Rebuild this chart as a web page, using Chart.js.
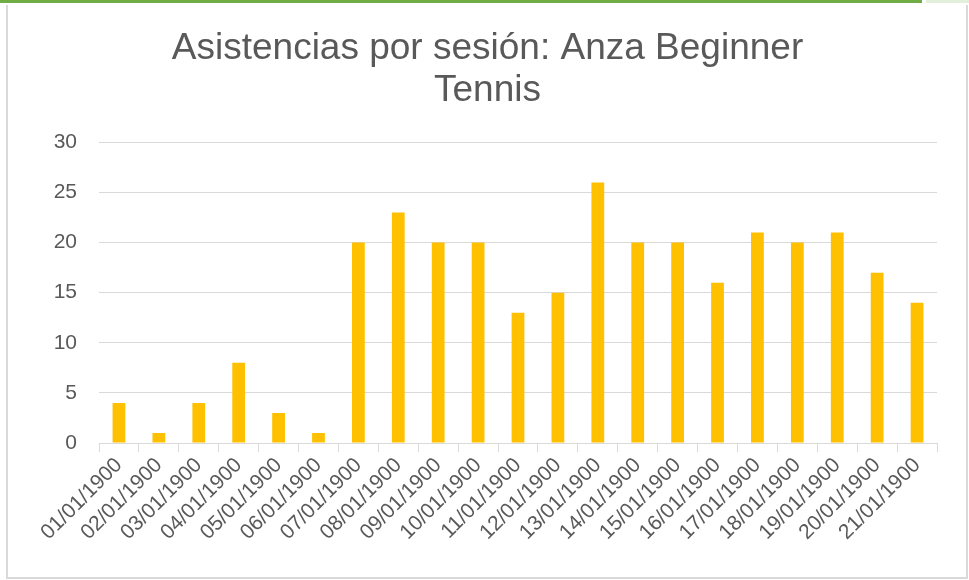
<!DOCTYPE html>
<html>
<head>
<meta charset="utf-8">
<script src="https://cdn.jsdelivr.net/npm/chart.js@4.4.0/dist/chart.umd.min.js"></script>
<style>
  html, body { margin: 0; padding: 0; background: #fff; }
  #wrap { position: relative; width: 969px; height: 580px; overflow: hidden; }
  #topbar { position: absolute; left: 0; top: 0; width: 922px; height: 3px; background: #70ad47; }
  #topbar2 { position: absolute; left: 926px; top: 0; width: 43px; height: 3px; background: #e2efda; }
  #frame { position: absolute; left: 6px; top: 5px; width: 958px; height: 572px; border: 2px solid #d9d9d9; border-top: none; }
  canvas { position: absolute; left: 0; top: 0; }
</style>
</head>
<body>
<div id="wrap">
  <div id="topbar"></div>
  <div id="topbar2"></div>
  <div id="frame"></div>
  <canvas id="chart-main" width="969" height="580"></canvas>
</div>
<script>
// ---------- data ----------
const sessions = [
  '01/01/1900', '02/01/1900', '03/01/1900', '04/01/1900', '05/01/1900', '06/01/1900', '07/01/1900',
  '08/01/1900', '09/01/1900', '10/01/1900', '11/01/1900', '12/01/1900', '13/01/1900', '14/01/1900',
  '15/01/1900', '16/01/1900', '17/01/1900', '18/01/1900', '19/01/1900', '20/01/1900', '21/01/1900'
];
const attendance = [4, 1, 4, 8, 3, 1, 20, 23, 20, 20, 13, 15, 26, 20, 20, 16, 21, 20, 21, 17, 14];
const yTicks = [0, 5, 10, 15, 20, 25, 30];

const textColor = '#595959';
const lineColor = '#d9d9d9';
const fontFamily = "'Liberation Sans', Arial, sans-serif";

const ctx = document.getElementById('chart-main').getContext('2d');
new Chart(ctx, {
    type: 'bar',
    data: {
        labels: sessions,
        datasets: [{
            label: 'Asistencias',
            data: attendance,
            backgroundColor: '#ffc000',
            categoryPercentage: 1,
            barPercentage: 0.32
        }]
    },
    options: {
        responsive: false,
        animation: false,
        layout: { padding: { left: 6, right: 0, top: 0, bottom: 0 } },
        plugins: {
            legend: { display: false },
            tooltip: { enabled: false },
            title: {
                display: true,
                text: ['Asistencias por sesión: Anza Beginner', 'Tennis'],
                color: textColor,
                font: { family: fontFamily, size: 37, weight: 'normal', lineHeight: 1.14 },
                padding: { top: 28, bottom: 30 }
            }
        },
        scales: {
            x: {
                grid: {
                    drawOnChartArea: false,
                    color: lineColor,
                    tickLength: 9,
                    offset: true
                },
                border: { color: lineColor, width: 1 },
                ticks: {
                    color: textColor,
                    font: { family: fontFamily, size: 21 },
                    minRotation: 45,
                    maxRotation: 45,
                    autoSkip: false,
                    padding: 1
                },
                afterFit: s => { s.height = 137; }
            },
            y: {
                min: 0,
                max: 30,
                afterBuildTicks: s => { s.ticks = yTicks.map(v => ({ value: v })); },
                grid: { color: lineColor, drawTicks: false, lineWidth: 1 },
                border: { display: false },
                ticks: {
                    color: textColor,
                    font: { family: fontFamily, size: 21 },
                    padding: 22
                },
                afterFit: s => { s.width = 93; }
            },
            // empty spacer on the right so the plot ends where the reference does
            spacer: {
                type: 'linear',
                position: 'right',
                min: 0,
                max: 1,
                grid: { display: false },
                border: { display: false },
                ticks: { display: false },
                afterFit: s => { s.width = 32; }
            }
        }
    }
});
</script>
</body>
</html>
